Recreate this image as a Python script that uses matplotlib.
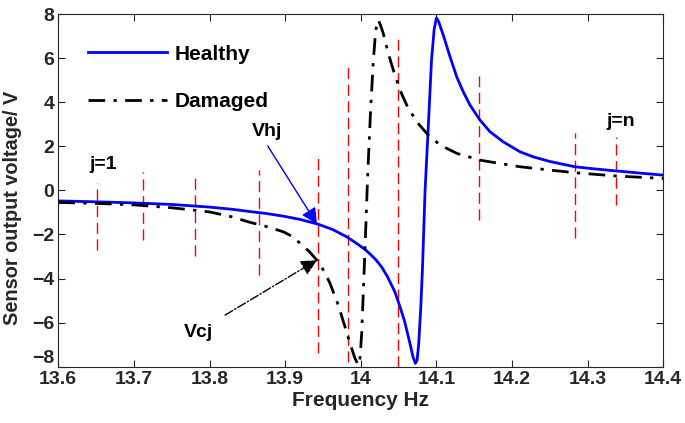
import matplotlib
matplotlib.use("Agg")
import matplotlib.pyplot as plt

plt.rcParams["font.family"] = ["Liberation Sans", "DejaVu Sans"]
plt.rcParams["font.weight"] = "bold"

# Healthy response
freq_h = [13.60, 13.65, 13.70, 13.75, 13.80, 13.83, 13.855, 13.875, 13.8975, 13.92,
          13.944, 13.963, 13.981, 13.995, 14.0055, 14.012, 14.02, 14.028, 14.035,
          14.045, 14.052, 14.058, 14.0647, 14.069, 14.0722, 14.0745, 14.0766,
          14.0792, 14.0815, 14.085, 14.089, 14.0935, 14.097, 14.100, 14.103,
          14.109, 14.118, 14.1268, 14.1355, 14.1444, 14.1576, 14.1708, 14.1884,
          14.2105, 14.228, 14.25, 14.283, 14.31, 14.338, 14.37, 14.40]
volt_h = [-0.48, -0.52, -0.57, -0.64, -0.76, -0.86, -0.97, -1.05, -1.17, -1.32,
          -1.54, -1.78, -2.10, -2.42, -2.68, -2.88, -3.15, -3.50, -3.90,
          -4.60, -5.30, -5.95, -6.90, -7.55, -7.85, -7.70, -6.95,
          -5.40, -3.60, 0.00, 2.70, 5.90, 7.30, 7.82, 7.65,
          7.05, 6.06, 5.15, 4.47, 3.87, 3.19, 2.66, 2.20,
          1.75, 1.52, 1.31, 1.07, 0.97, 0.88, 0.78, 0.69]

# Damaged response
freq_d = [13.60, 13.65, 13.70, 13.75, 13.80, 13.827, 13.8535, 13.875, 13.8975, 13.91,
          13.9196, 13.932, 13.9438, 13.952, 13.9593, 13.9702, 13.9791, 13.9857,
          13.9923, 13.9967, 13.999, 14.0012, 14.003, 14.0055, 14.009, 14.013,
          14.0166, 14.0197, 14.0231, 14.026, 14.0297, 14.0363, 14.043, 14.0518,
          14.0607, 14.0739, 14.0892, 14.1047, 14.1268, 14.1576, 14.184, 14.2105,
          14.25, 14.283, 14.338, 14.40]
volt_d = [-0.55, -0.59, -0.66, -0.79, -0.98, -1.18, -1.45, -1.64, -1.88, -2.10,
          -2.40, -2.78, -3.24, -3.70, -4.22, -5.20, -6.19, -6.94,
          -7.62, -7.93, -7.60, -6.49, -4.90, -2.71, 0.60, 3.65,
          5.90, 7.25, 7.73, 7.50, 7.12, 6.22, 5.46, 4.55,
          3.87, 3.11, 2.51, 2.06, 1.68, 1.37, 1.22, 1.07,
          0.92, 0.80, 0.65, 0.54]

# Red dashed sampling lines
samp_f = [13.6508, 13.7124, 13.7807, 13.8654, 13.943, 13.9834, 14.0496, 14.1567, 14.2832, 14.3374]
samp_top = [0.33, 0.85, 0.66, 0.93, 1.46, 5.6, 6.9, 5.2, 2.6, 2.44]
samp_bot = [-2.7, -2.25, -3.0, -3.83, -7.4, -7.78, -8.0, -1.34, -2.17, -0.66]

xticks = [13.6, 13.7, 13.8, 13.9, 14.0, 14.1, 14.2, 14.3, 14.4]
xlabels = ["13.6", "13.7", "13.8", "13.9", "14", "14.1", "14.2", "14.3", "14.4"]
yticks = [-8, -6, -4, -2, 0, 2, 4, 6, 8]

axcol = "#262626"

fig = plt.figure(figsize=(6.85, 4.23), dpi=100)
ax = fig.add_axes([0.0851, 0.1331, 0.8832, 0.8338])

ax.vlines(samp_f, samp_bot, samp_top, colors="red", linewidth=1.0,
          linestyles=(0, (8, 4)))
ax.plot(freq_h, volt_h, color="#0000ff", linewidth=2.0, label="Healthy")
ax.plot(freq_d, volt_d, color="black", linewidth=2.0, linestyle=(0, (6, 3, 1.2, 3)),
        label="Damaged")

ax.set_xlim(13.6, 14.4)
ax.set_ylim(-8, 8)
ax.set_xticks(xticks)
ax.set_xticklabels(xlabels)
ax.set_yticks(yticks)
ax.tick_params(direction="in", length=5, width=0.8, colors=axcol, labelsize=14,
               top=True, right=True, pad=3)
for lab in ax.get_xticklabels() + ax.get_yticklabels():
    lab.set_fontweight("bold")
# bottom y label sits just above its tick, as in the original
ax.get_yticklabels()[0].set_verticalalignment("bottom")
for s in ax.spines.values():
    s.set_color(axcol)
    s.set_linewidth(0.8)

ax.set_xlabel("Frequency Hz", fontsize=15, fontweight="bold", color=axcol, labelpad=2)
ax.set_ylabel("Sensor output voltage/ V", fontsize=14.3, fontweight="bold", color=axcol)
ax.yaxis.set_label_coords(-0.06, 0.45)

ax.legend(loc="upper left", bbox_to_anchor=(0.049, 0.913), frameon=False,
          fontsize=15, handlelength=3.8, handletextpad=0.35, labelspacing=1.35,
          borderpad=0, borderaxespad=0)

# annotations
ax.annotate("", xy=(13.942, -1.53), xytext=(13.877, 2.01),
            arrowprops=dict(arrowstyle="-|>", color="#0000ff", lw=1.0,
                            mutation_scale=24, shrinkA=0, shrinkB=0))
ax.text(13.876, 2.69, "Vhj", fontsize=14, fontweight="bold", ha="center", va="center")

ax.annotate("", xy=(13.942, -3.16), xytext=(13.8206, -5.66),
            arrowprops=dict(arrowstyle="-|>", color="black", lw=1.0, linestyle="-.",
                            mutation_scale=24, shrinkA=0, shrinkB=0))
ax.text(13.785, -6.43, "Vcj", fontsize=14, fontweight="bold", ha="center", va="center")

ax.text(13.659, 1.15, "j=1", fontsize=14, fontweight="bold", ha="center", va="center")
ax.text(14.3437, 3.14, "j=n", fontsize=14, fontweight="bold", ha="center", va="center")

fig.savefig("out.png", dpi=100)
